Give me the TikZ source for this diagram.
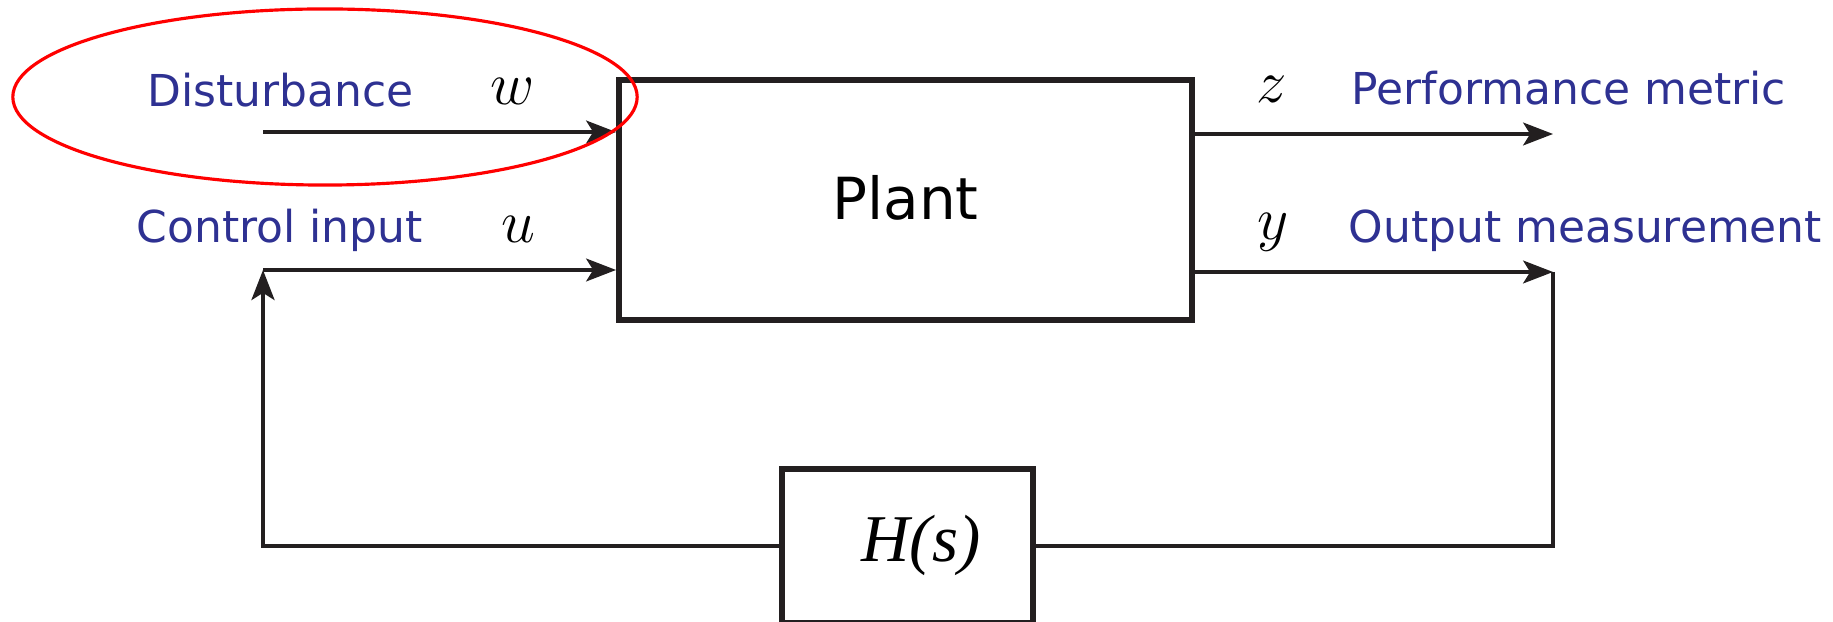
\documentclass[tikz,border=0pt]{standalone}
\usepackage{fontspec}
\newfontfamily\labfont{DejaVu Sans}
\newfontfamily\tmsfont{Liberation Serif}
\usetikzlibrary{arrows.meta}
\definecolor{labblue}{RGB}{46,49,146}
\definecolor{ink}{RGB}{35,31,32}
\begin{document}
\begin{tikzpicture}[x=0.01cm,y=-0.01cm,
  lab/.style={anchor=base west, inner sep=0pt, text=labblue, font=\labfont\fontsize{12.5}{15}\selectfont},
  sig/.style={anchor=base, inner sep=0pt, font=\fontsize{17}{20}\selectfont},
  blk/.style={draw=ink, line width=1.6pt, inner sep=0pt},
  tip/.style={-{Stealth[length=8.5pt,width=6.5pt,inset=2pt]}},
  arr/.style={draw=ink, line width=0.9pt, tip},
  fb/.style={draw=ink, line width=1.3pt},
  hilite/.style={draw=red, line width=0.9pt},
]
\useasboundingbox (0,0) rectangle (1833,622);
\clip (0,0) rectangle (1833,622);
\fill[white] (0,0) rectangle (1833,622);

% blocks
\node[blk, minimum width=5.73cm, minimum height=2.40cm, font=\labfont\fontsize{16.5}{20}\selectfont] (plant) at (905.5,200) {\raisebox{0.05cm}{Plant}};
\node[blk, minimum width=2.51cm, minimum height=1.54cm] (H) at (907.5,546) {};
\node[anchor=base, inner sep=0pt, font=\tmsfont\itshape\fontsize{19}{22}\selectfont] (Htext) at (921,562) {H(s)};

% labels
\node[lab] (dist) at (147,107) {Disturbance};
\node[lab] (ctrl) at (136,243) {Control input};
\node[lab] (perf) at (1351,105) {Performance metric};
\node[lab] (meas) at (1348,243) {Output measurement};
\node[sig] (w) at (513,105) {$w$};
\node[sig] (u) at (518,243) {$u$};
\node[sig] (z) at (1272,103) {$z$};
\node[sig] (y) at (1273,240) {$y$};

% coordinates
\coordinate (dw) at (263,132);
\coordinate (cu) at (263,270);
\coordinate (cz) at (1553,134);
\coordinate (cy) at (1553,272);

% connectors
\draw[arr] (dw) -- (plant.west |- dw);
\draw[arr] (cu) -- (plant.west |- cu);
\draw[arr] (plant.east |- cz) -- (cz);
\draw[arr] (plant.east |- cy) -- (cy);
\draw[fb] (cy) |- (H.east);
\draw[fb, tip] (H.west) -| (cu);

% highlight
\draw[hilite] (325,97) ellipse [x radius=3.12cm, y radius=0.88cm];
\end{tikzpicture}
\end{document}
